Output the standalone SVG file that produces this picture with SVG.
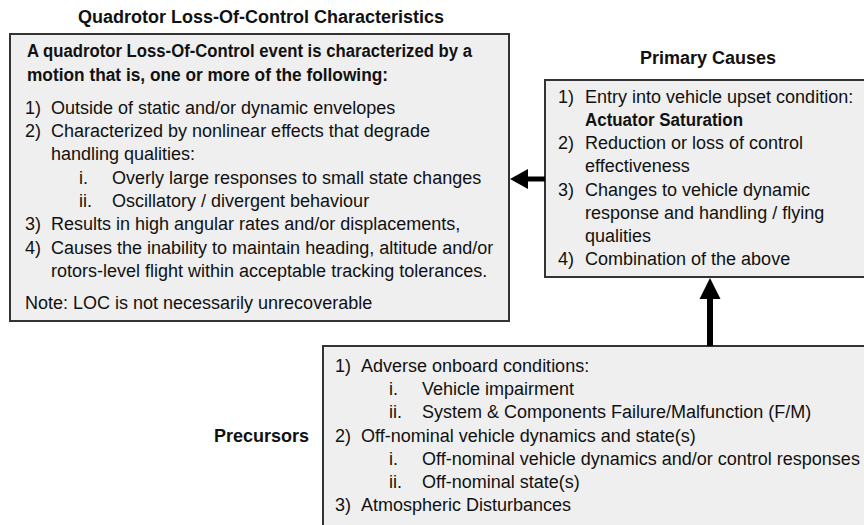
<svg xmlns="http://www.w3.org/2000/svg" width="864" height="525" viewBox="0 0 864 525">
<style>
text{font-family:"Liberation Sans",Arial,sans-serif;font-size:18px;fill:#111}
.b{font-weight:bold}
.box{fill:#efefef;stroke:#333;stroke-width:2}
.mid{text-anchor:middle}
.end{text-anchor:end}
</style>
<rect width="864" height="525" fill="#fff"/>
<g id="title-loc"><text class="b mid" x="261" y="23">Quadrotor Loss-Of-Control Characteristics</text></g>
<g id="loc">
<rect class="box" x="10" y="34" width="499" height="287"/>
<text class="b" x="27" y="57" textLength="445" lengthAdjust="spacingAndGlyphs">A quadrotor Loss-Of-Control event is characterized by a</text>
<text class="b" x="27" y="81" textLength="361" lengthAdjust="spacingAndGlyphs">motion that is, one or more of the following:</text>
<text x="25" y="114">1)</text><text x="51" y="114">Outside of static and/or dynamic envelopes</text>
<text x="25" y="137">2)</text><text x="51" y="137">Characterized by nonlinear effects that degrade</text>
<text x="51" y="160">handling qualities:</text>
<text x="79" y="184">i.</text><text x="112" y="184">Overly large responses to small state changes</text>
<text x="79" y="207">ii.</text><text x="112" y="207">Oscillatory / divergent behaviour</text>
<text x="25" y="230">3)</text><text x="51" y="230">Results in high angular rates and/or displacements,</text>
<text x="25" y="254">4)</text><text x="51" y="254">Causes the inability to maintain heading, altitude and/or</text>
<text x="51" y="277">rotors-level flight within acceptable tracking tolerances.</text>
<text x="25" y="309">Note: LOC is not necessarily unrecoverable</text>
</g>
<g id="title-causes"><text class="b mid" x="708" y="64">Primary Causes</text></g>
<g id="causes">
<rect class="box" x="545" y="80" width="330" height="197"/>
<text x="558" y="103">1)</text><text x="585" y="103">Entry into vehicle upset condition:</text>
<text class="b" x="585" y="126" textLength="158" lengthAdjust="spacingAndGlyphs">Actuator Saturation</text>
<text x="558" y="149">2)</text><text x="585" y="149">Reduction or loss of control</text>
<text x="585" y="172">effectiveness</text>
<text x="558" y="196">3)</text><text x="585" y="196">Changes to vehicle dynamic</text>
<text x="585" y="219">response and handling / flying</text>
<text x="585" y="242">qualities</text>
<text x="558" y="265">4)</text><text x="585" y="265">Combination of the above</text>
</g>
<g id="label-precursors"><text class="b end" x="309" y="442">Precursors</text></g>
<g id="precursors">
<rect class="box" x="323" y="346" width="560" height="200"/>
<text x="335" y="372">1)</text><text x="361" y="372">Adverse onboard conditions:</text>
<text x="389" y="395">i.</text><text x="422" y="395">Vehicle impairment</text>
<text x="389" y="418">ii.</text><text x="422" y="418">System &amp; Components Failure/Malfunction (F/M)</text>
<text x="335" y="442">2)</text><text x="361" y="442">Off-nominal vehicle dynamics and state(s)</text>
<text x="389" y="465">i.</text><text x="422" y="465">Off-nominal vehicle dynamics and/or control responses</text>
<text x="389" y="488">ii.</text><text x="422" y="488">Off-nominal state(s)</text>
<text x="335" y="511">3)</text><text x="361" y="511">Atmospheric Disturbances</text>
</g>
<g id="connectors" fill="#000" stroke="none">
<rect x="526" y="176.5" width="19" height="5"/>
<polygon points="510,179 528,169 528,189"/>
<rect x="707" y="297" width="6" height="49"/>
<polygon points="710,278 699.5,299 720.5,299"/>
</g>
</svg>
